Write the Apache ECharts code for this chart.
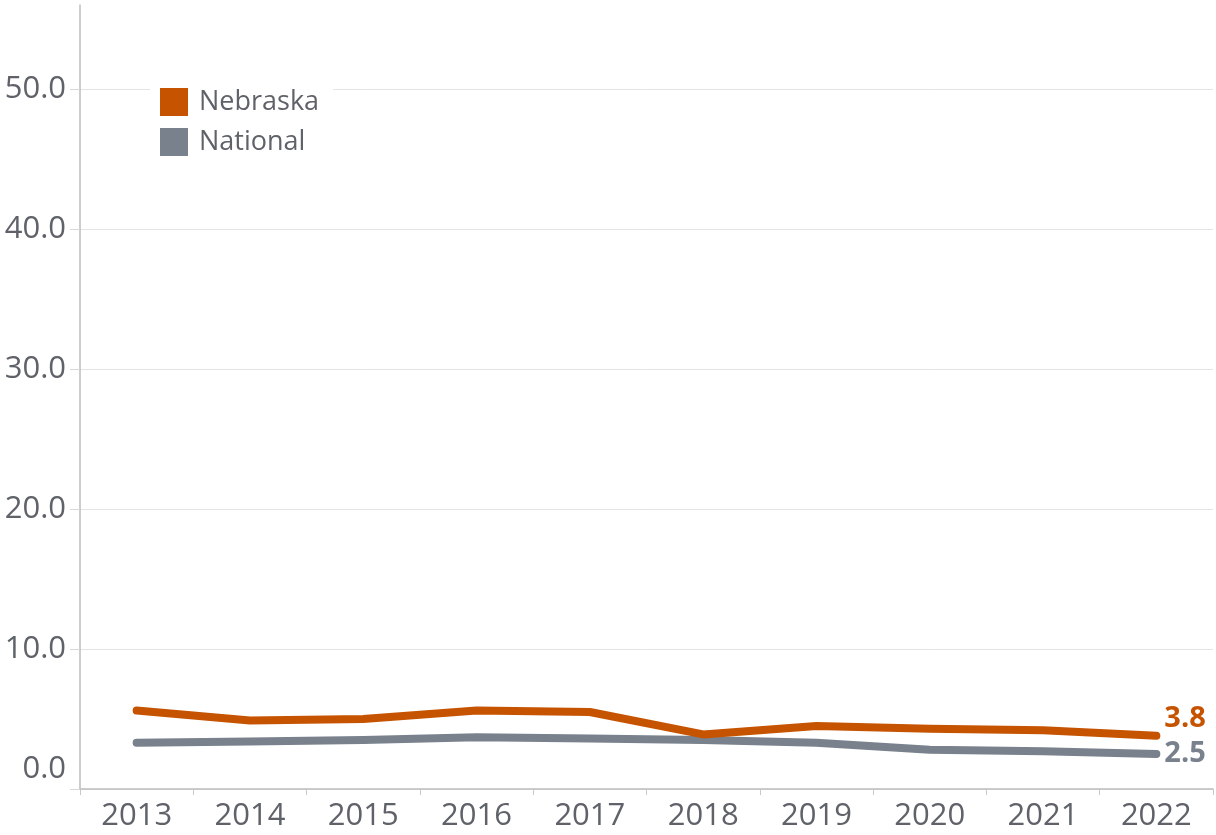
<!DOCTYPE html>
<html>
<head>
<meta charset="utf-8">
<script src="https://cdn.jsdelivr.net/npm/echarts@6/dist/echarts.min.js"></script>
<style>html,body{margin:0;padding:0;background:#fff;}#c{width:1216px;height:835px;}</style>
</head>
<body>
<div id="c"></div>
<script>
const years = ['2013','2014','2015','2016','2017','2018','2019','2020','2021','2022'];
const nebraska = [5.6, 4.9, 5.0, 5.6, 5.5, 3.9, 4.5, 4.3, 4.2, 3.8];
const national = [3.3, 3.4, 3.5, 3.7, 3.6, 3.5, 3.3, 2.8, 2.7, 2.5];
const yTicks = [0, 10, 20, 30, 40, 50];

const orange = '#C65300';
const gray = '#78818C';
const textColor = '#5F6369';
const font = 'Open Sans';

const chart = echarts.init(document.getElementById('c'));
function endLabel(color, dy) {
  return {
    show: true,
    formatter: p => Number(p.value).toFixed(1),
    distance: 8,
    offset: [0, dy],
    color: color,
    fontWeight: 'bold',
    fontSize: 29,
    fontFamily: font
  };
}
chart.setOption({
  animation: false,
  grid: { left: 80, right: 3, top: 5, bottom: 46, containLabel: false },
  legend: {
    left: 150, top: 82,
    orient: 'vertical',
    backgroundColor: '#fff',
    padding: [6, 14, 6, 10],
    itemWidth: 28, itemHeight: 28, itemGap: 12,
    icon: 'rect',
    textStyle: { color: textColor, fontSize: 27, fontFamily: font, padding: [0, 0, 0, 6] },
    data: ['Nebraska', 'National']
  },
  xAxis: {
    type: 'category',
    data: years,
    boundaryGap: true,
    axisLine: { lineStyle: { color: '#BDBDBD', width: 1.5 } },
    axisTick: { show: true, length: 6, lineStyle: { color: '#C8C8C8' } },
    axisLabel: { color: textColor, fontSize: 31, fontFamily: font, margin: 12 }
  },
  yAxis: {
    type: 'value',
    min: 0, max: 56, interval: 10,
    axisLine: { show: true, lineStyle: { color: '#BDBDBD', width: 1.5 } },
    axisTick: { show: true, length: 10, lineStyle: { color: '#D8D8D8' } },
    splitLine: { show: true, showMaxLine: false, lineStyle: { color: '#E4E4E4', width: 1 } },
    axisLabel: {
      showMaxLabel: false,
      color: textColor, fontSize: 31, fontFamily: font, margin: 14,
      formatter: v => yTicks.includes(v) ? (v === 0 ? '{z|0.0}' : v.toFixed(1)) : '',
      rich: { z: { color: textColor, fontSize: 31, fontFamily: font, padding: [0, 0, 40, 0] } }
    }
  },
  series: [
    {
      name: 'Nebraska', type: 'line', data: nebraska,
      symbol: 'none', color: orange,
      lineStyle: { color: orange, width: 8, cap: 'round', join: 'round' },
      endLabel: endLabel(orange, -17),
      z: 3
    },
    {
      name: 'National', type: 'line', data: national,
      symbol: 'none', color: gray,
      lineStyle: { color: gray, width: 8, cap: 'round', join: 'round' },
      endLabel: endLabel(gray, 0),
      z: 2
    }
  ]
});
</script>
</body>
</html>
